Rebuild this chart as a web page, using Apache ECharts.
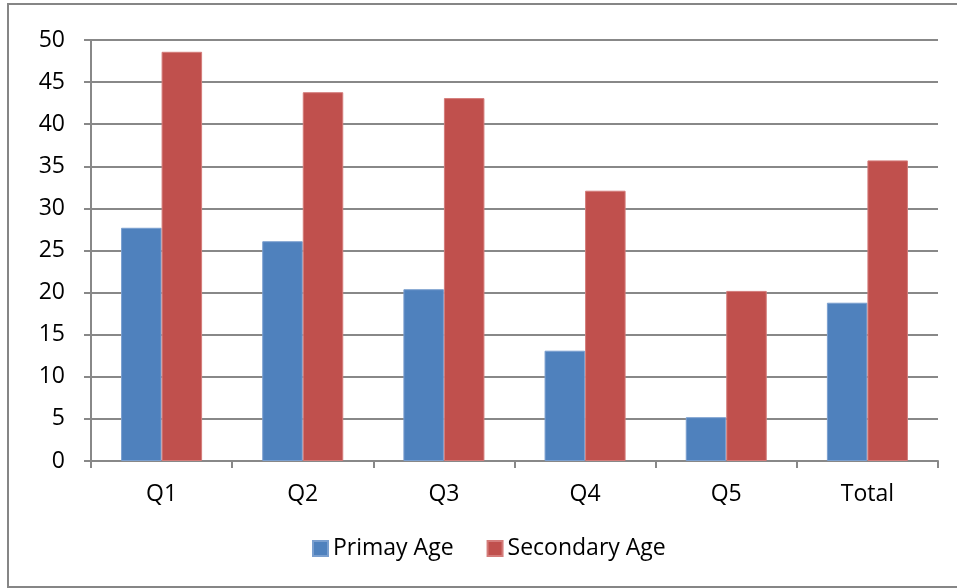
<!DOCTYPE html>
<html>
<head>
<meta charset="utf-8">
<script src="https://cdn.jsdelivr.net/npm/echarts@6/dist/echarts.min.js"></script>
<style>
  html, body { margin: 0; padding: 0; background: #ffffff; }
  #chart { width: 957px; height: 588px; }
</style>
</head>
<body>
<div id="chart"></div>
<script>
// Categories and values for the two age groups
const categories = ['Q1', 'Q2', 'Q3', 'Q4', 'Q5', 'Total'];
const primaryAge = [27.7, 26.1, 20.4, 13.1, 5.2, 18.8];
const secondaryAge = [48.6, 43.8, 43.1, 32.1, 20.2, 35.7];
const seriesNames = ['Primay Age', 'Secondary Age'];

const FONT = '"Open Sans", "Noto Sans", sans-serif';
const FONT_SIZE = 23;
const GRID_GREY = '#888888';

const chart = echarts.init(document.getElementById('chart'), null, { renderer: 'canvas' });

chart.setOption({
  animation: false,
  backgroundColor: '#ffffff',
  textStyle: { fontFamily: FONT },
  graphic: [{
    type: 'rect',
    shape: { x: 8, y: 4, width: 960, height: 583 },
    style: { fill: 'none', stroke: '#868686', lineWidth: 2 },
    silent: true,
    z: -1
  }],
  grid: { left: 91, right: 19, top: 40, bottom: 127, containLabel: false },
  legend: {
    data: seriesNames,
    top: 537,
    left: 312,
    padding: 0,
    itemWidth: 15,
    itemHeight: 15,
    itemGap: 33,
    icon: 'rect',
    textStyle: { fontFamily: FONT, fontSize: FONT_SIZE, color: '#000000', padding: [0, 0, 0, 0] }
  },
  xAxis: {
    type: 'category',
    data: categories,
    axisLine: { lineStyle: { color: GRID_GREY, width: 2 } },
    axisTick: { show: true, length: 7, alignWithLabel: false, lineStyle: { color: GRID_GREY, width: 2 } },
    axisLabel: { fontFamily: FONT, fontSize: FONT_SIZE, color: '#000000', margin: 22 }
  },
  yAxis: {
    type: 'value',
    min: 0,
    max: 50,
    interval: 5,
    axisLine: { show: true, lineStyle: { color: GRID_GREY, width: 2 } },
    axisTick: { show: true, length: 7, lineStyle: { color: GRID_GREY, width: 2 } },
    axisLabel: { fontFamily: FONT, fontSize: FONT_SIZE, color: '#000000', margin: 26 },
    splitLine: { show: true, lineStyle: { color: GRID_GREY, width: 2 } }
  },
  series: [
    {
      name: seriesNames[0],
      type: 'bar',
      data: primaryAge,
      barGap: '0%',
      barCategoryGap: '42.6%',
      itemStyle: { color: '#4F81BD', borderColor: '#7A9FCF', borderWidth: 1 }
    },
    {
      name: seriesNames[1],
      type: 'bar',
      data: secondaryAge,
      barGap: '0%',
      barCategoryGap: '42.6%',
      itemStyle: { color: '#C0504D', borderColor: '#D47C7A', borderWidth: 1 }
    }
  ]
});
</script>
</body>
</html>
